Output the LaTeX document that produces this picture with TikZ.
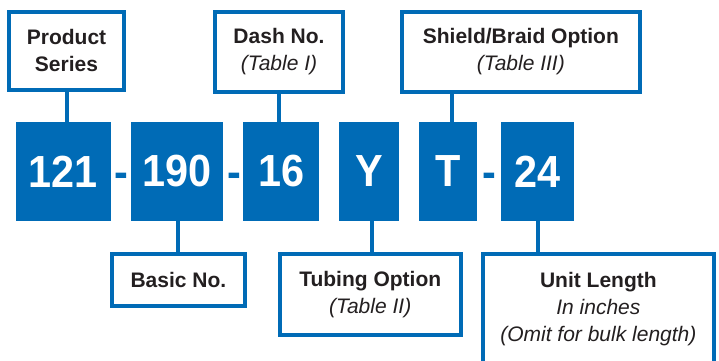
\documentclass[tikz,border=0pt]{standalone}
\usepackage{fontspec}
\setmainfont{Liberation Sans}
\newfontfamily\codefont[FakeStretch=0.92]{Liberation Sans}
\usepackage{tikz}
\usetikzlibrary{calc}
\definecolor{partblue}{RGB}{0,107,182}
\definecolor{inkgray}{RGB}{35,31,32}
\tikzstyle{code}=[fill=partblue, text=white, inner sep=0, minimum height=99pt,
                font=\codefont\fontsize{45}{45}\selectfont\bfseries]
\tikzstyle{sep}=[text=partblue, inner sep=0, anchor=base,
                font=\codefont\fontsize{45}{45}\selectfont\bfseries]
\tikzstyle{lbl}=[draw=partblue, line width=4pt, align=center, inner sep=0,
                text=inkgray, font=\fontsize{21}{27}\selectfont]
\tikzstyle{stem}=[draw=partblue, line width=4pt]

\begin{document}
\begin{tikzpicture}[x=1pt,y=-1pt]
\path[use as bounding box] (0,0) rectangle (719,360);
% part number boxes
\node[code, minimum width=94.5pt] (n121) at (63.25,171.5) {121};
\node[code, minimum width=91.7pt] (n190) at (176.85,171.5) {190};
\node[code, minimum width=75.7pt] (n16) at (281.15,171.5) {16};
\node[code, minimum width=60pt] (nY) at (369,171.5) {Y};
\node[code, minimum width=57.7pt] (nT) at (447.85,171.5) {T};
\node[code, minimum width=73.3pt] (n24) at (537.65,171.5) {24};
\node[sep] (d1) at (121.8,187.7) {-};
\node[sep] (d2) at (234,187.7) {-};
\node[sep] (d3) at (489.5,187.7) {-};
% labels
\node[lbl, minimum width=115pt, minimum height=77.7pt] (ps) at (66.5,50.85)
  {\textbf{Product}\\\textbf{Series}};
\node[lbl, minimum width=128.6pt, minimum height=80pt] (dn) at (279,52)
  {\textbf{Dash No.}\\\textit{(Table I)}};
\node[lbl, minimum width=237.7pt, minimum height=80pt] (sb) at (520.85,52)
  {\textbf{Shield/Braid Option}\\\textit{(Table III)}};
\node[lbl, minimum width=132.7pt, minimum height=52pt] (bn) at (178.35,279.7)
  {\textbf{Basic No.}};
\node[lbl, minimum width=181pt, minimum height=80.4pt] (to) at (370.2,294.5)
  {\textbf{Tubing Option}\\\textit{(Table II)}};
\node[lbl, minimum width=231.3pt, minimum height=110pt] (ul) at (598.35,309)
  {\textbf{Unit Length}\\\textit{In inches}\\\textit{(Omit for bulk length)}};
% stems
\path[stem] (ps.south) -- (ps.south |- n121.north);
\path[stem] (dn.south) -- (dn.south |- n16.north);
\path[stem] (nT.north) ++(3.8,0) -- ($(nT.north |- sb.south)+(3.8,0)$);
\path[stem] (bn.north) -- (bn.north |- n190.south);
\path[stem] (nY.south) ++(3.3,0) -- ($(nY.south |- to.north)+(3.3,0)$);
\path[stem] (n24.south) -- (n24.south |- ul.north);
\end{tikzpicture}
\end{document}
